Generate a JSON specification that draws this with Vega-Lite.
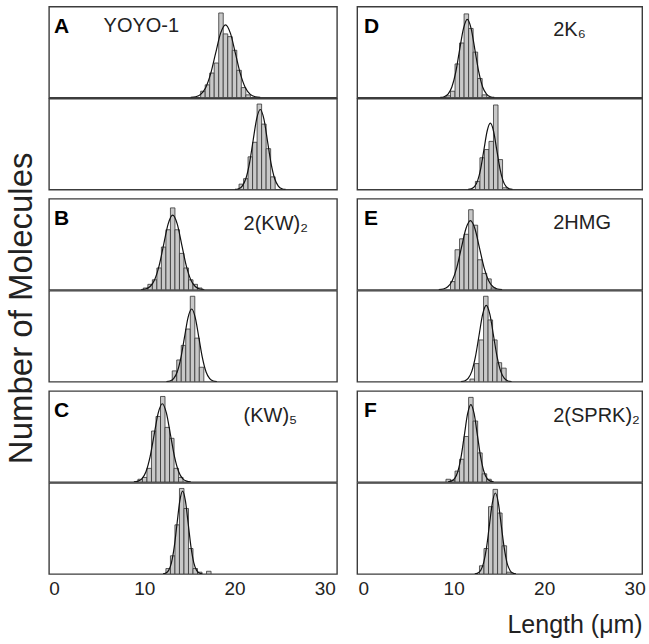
{
"$schema": "https://vega.github.io/schema/vega-lite/v6.json",
"background": "white",
"padding": {"left": 5, "top": 5.6, "right": 2, "bottom": 2},
"config": {"view": {"stroke": "#3c3c3c", "strokeWidth": 1.4}, "font": "Liberation Sans"},
"title": {"text": "Number of Molecules", "orient": "left", "anchor": "middle", "fontSize": 33, "fontWeight": "normal", "color": "#222222", "font": "Liberation Sans", "offset": 9, "dx": 14},
"datasets": {
"labels": [
{"panel": "A", "letter": "A", "name": "YOYO-1"},
{"panel": "B", "letter": "B", "name": "2(KW)₂"},
{"panel": "C", "letter": "C", "name": "(KW)₅"},
{"panel": "D", "letter": "D", "name": "2K₆"},
{"panel": "E", "letter": "E", "name": "2HMG"},
{"panel": "F", "letter": "F", "name": "2(SPRK)₂"}
],
"bars": [
{"id":"A1","x":16.25,"x2":16.75,"y":7},{"id":"A1","x":16.75,"x2":17.25,"y":14},{"id":"A1","x":17.25,"x2":17.75,"y":27},{"id":"A1","x":17.75,"x2":18.25,"y":38},{"id":"A1","x":18.25,"x2":18.75,"y":93},{"id":"A1","x":18.75,"x2":19.25,"y":70},{"id":"A1","x":19.25,"x2":19.75,"y":67},{"id":"A1","x":19.75,"x2":20.25,"y":52},{"id":"A1","x":20.25,"x2":20.75,"y":30},{"id":"A1","x":20.75,"x2":21.25,"y":11},{"id":"A1","x":21.25,"x2":21.75,"y":3},
{"id":"A2","x":20.5,"x2":21.0,"y":6},{"id":"A2","x":21.0,"x2":21.5,"y":12},{"id":"A2","x":21.5,"x2":22.0,"y":36},{"id":"A2","x":22.0,"x2":22.5,"y":52},{"id":"A2","x":22.5,"x2":23.0,"y":94},{"id":"A2","x":23.0,"x2":23.5,"y":72},{"id":"A2","x":23.5,"x2":24.0,"y":45},{"id":"A2","x":24.0,"x2":24.5,"y":14},
{"id":"B1","x":9.9,"x2":10.4,"y":2},{"id":"B1","x":10.4,"x2":10.9,"y":6},{"id":"B1","x":10.9,"x2":11.4,"y":11},{"id":"B1","x":11.4,"x2":11.9,"y":24},{"id":"B1","x":11.9,"x2":12.4,"y":47},{"id":"B1","x":12.4,"x2":12.9,"y":66},{"id":"B1","x":12.9,"x2":13.4,"y":90},{"id":"B1","x":13.4,"x2":13.9,"y":66},{"id":"B1","x":13.9,"x2":14.4,"y":40},{"id":"B1","x":14.4,"x2":14.9,"y":24},{"id":"B1","x":14.9,"x2":15.4,"y":11},{"id":"B1","x":15.4,"x2":15.9,"y":6},{"id":"B1","x":15.9,"x2":16.4,"y":2},
{"id":"B2","x":13.1,"x2":13.6,"y":12},{"id":"B2","x":13.6,"x2":14.1,"y":24},{"id":"B2","x":14.1,"x2":14.6,"y":40},{"id":"B2","x":14.6,"x2":15.1,"y":58},{"id":"B2","x":15.1,"x2":15.6,"y":94},{"id":"B2","x":15.6,"x2":16.1,"y":48},{"id":"B2","x":16.1,"x2":16.6,"y":16},
{"id":"C1","x":9.3,"x2":9.8,"y":3},{"id":"C1","x":9.8,"x2":10.3,"y":5},{"id":"C1","x":10.3,"x2":10.8,"y":15},{"id":"C1","x":10.8,"x2":11.3,"y":56},{"id":"C1","x":11.3,"x2":11.8,"y":72},{"id":"C1","x":11.8,"x2":12.3,"y":94},{"id":"C1","x":12.3,"x2":12.8,"y":60},{"id":"C1","x":12.8,"x2":13.3,"y":48},{"id":"C1","x":13.3,"x2":13.8,"y":15},{"id":"C1","x":13.8,"x2":14.3,"y":5},
{"id":"C2","x":12.4,"x2":12.9,"y":6},{"id":"C2","x":12.9,"x2":13.4,"y":20},{"id":"C2","x":13.4,"x2":13.9,"y":54},{"id":"C2","x":13.9,"x2":14.4,"y":94},{"id":"C2","x":14.4,"x2":14.9,"y":72},{"id":"C2","x":14.9,"x2":15.4,"y":28},{"id":"C2","x":15.4,"x2":15.9,"y":6},{"id":"C2","x":15.9,"x2":16.4,"y":2},{"id":"C2","x":16.9,"x2":17.4,"y":3},
{"id":"D1","x":9.15,"x2":9.65,"y":2},{"id":"D1","x":9.65,"x2":10.15,"y":7},{"id":"D1","x":10.15,"x2":10.65,"y":37},{"id":"D1","x":10.65,"x2":11.15,"y":60},{"id":"D1","x":11.15,"x2":11.65,"y":92},{"id":"D1","x":11.65,"x2":12.15,"y":76},{"id":"D1","x":12.15,"x2":12.65,"y":50},{"id":"D1","x":12.65,"x2":13.15,"y":21},{"id":"D1","x":13.15,"x2":13.65,"y":3},
{"id":"D2","x":12.4,"x2":12.9,"y":9},{"id":"D2","x":12.9,"x2":13.4,"y":35},{"id":"D2","x":13.4,"x2":13.9,"y":44},{"id":"D2","x":13.9,"x2":14.4,"y":53},{"id":"D2","x":14.4,"x2":14.9,"y":93},{"id":"D2","x":14.9,"x2":15.4,"y":33},{"id":"D2","x":15.4,"x2":15.9,"y":2},
{"id":"E1","x":9.65,"x2":10.15,"y":9},{"id":"E1","x":10.15,"x2":10.65,"y":44},{"id":"E1","x":10.65,"x2":11.15,"y":56},{"id":"E1","x":11.15,"x2":11.65,"y":61},{"id":"E1","x":11.65,"x2":12.15,"y":88},{"id":"E1","x":12.15,"x2":12.65,"y":71},{"id":"E1","x":12.65,"x2":13.15,"y":33},{"id":"E1","x":13.15,"x2":13.65,"y":18},{"id":"E1","x":13.65,"x2":14.15,"y":12},{"id":"E1","x":14.15,"x2":14.65,"y":2},
{"id":"E2","x":11.8,"x2":12.3,"y":3},{"id":"E2","x":12.3,"x2":12.8,"y":20},{"id":"E2","x":12.8,"x2":13.3,"y":46},{"id":"E2","x":13.3,"x2":13.8,"y":94},{"id":"E2","x":13.8,"x2":14.3,"y":68},{"id":"E2","x":14.3,"x2":14.8,"y":46},{"id":"E2","x":14.8,"x2":15.3,"y":21},{"id":"E2","x":15.3,"x2":15.8,"y":15},
{"id":"F1","x":9.15,"x2":9.65,"y":3},{"id":"F1","x":9.65,"x2":10.15,"y":2},{"id":"F1","x":10.15,"x2":10.65,"y":12},{"id":"F1","x":10.65,"x2":11.15,"y":25},{"id":"F1","x":11.15,"x2":11.65,"y":50},{"id":"F1","x":11.65,"x2":12.15,"y":93},{"id":"F1","x":12.15,"x2":12.65,"y":67},{"id":"F1","x":12.65,"x2":13.15,"y":32},{"id":"F1","x":13.15,"x2":13.65,"y":9},{"id":"F1","x":13.65,"x2":14.15,"y":3},
{"id":"F2","x":12.85,"x2":13.35,"y":9},{"id":"F2","x":13.35,"x2":13.85,"y":28},{"id":"F2","x":13.85,"x2":14.35,"y":74},{"id":"F2","x":14.35,"x2":14.85,"y":93},{"id":"F2","x":14.85,"x2":15.35,"y":67},{"id":"F2","x":15.35,"x2":15.85,"y":31},{"id":"F2","x":15.85,"x2":16.35,"y":2}
],
"curves": [
{"id":"A1","x":15.15,"y":0.18},{"id":"A1","x":15.7,"y":0.89},{"id":"A1","x":16.25,"y":3.5},{"id":"A1","x":16.8,"y":10.8},{"id":"A1","x":17.35,"y":26},{"id":"A1","x":17.9,"y":48.5},{"id":"A1","x":18.45,"y":70.6},{"id":"A1","x":19.0,"y":80},{"id":"A1","x":19.55,"y":70.6},{"id":"A1","x":20.1,"y":48.5},{"id":"A1","x":20.65,"y":26},{"id":"A1","x":21.2,"y":10.8},{"id":"A1","x":21.75,"y":3.5},{"id":"A1","x":22.3,"y":0.89},{"id":"A1","x":22.85,"y":0.18},
{"id":"A2","x":20.05,"y":0.19},{"id":"A2","x":20.45,"y":0.98},{"id":"A2","x":20.85,"y":3.9},{"id":"A2","x":21.25,"y":11.9},{"id":"A2","x":21.65,"y":28.6},{"id":"A2","x":22.05,"y":53.4},{"id":"A2","x":22.45,"y":77.7},{"id":"A2","x":22.85,"y":88},{"id":"A2","x":23.25,"y":77.7},{"id":"A2","x":23.65,"y":53.4},{"id":"A2","x":24.05,"y":28.6},{"id":"A2","x":24.45,"y":11.9},{"id":"A2","x":24.85,"y":3.9},{"id":"A2","x":25.25,"y":0.98},{"id":"A2","x":25.65,"y":0.19},
{"id":"B1","x":9.65,"y":0.18},{"id":"B1","x":10.15,"y":0.91},{"id":"B1","x":10.65,"y":3.6},{"id":"B1","x":11.15,"y":11.1},{"id":"B1","x":11.65,"y":26.6},{"id":"B1","x":12.15,"y":49.7},{"id":"B1","x":12.65,"y":72.4},{"id":"B1","x":13.15,"y":82},{"id":"B1","x":13.65,"y":72.4},{"id":"B1","x":14.15,"y":49.7},{"id":"B1","x":14.65,"y":26.6},{"id":"B1","x":15.15,"y":11.1},{"id":"B1","x":15.65,"y":3.6},{"id":"B1","x":16.15,"y":0.91},{"id":"B1","x":16.65,"y":0.18},
{"id":"B2","x":12.45,"y":0.18},{"id":"B2","x":12.85,"y":0.89},{"id":"B2","x":13.25,"y":3.5},{"id":"B2","x":13.65,"y":10.8},{"id":"B2","x":14.05,"y":26},{"id":"B2","x":14.45,"y":48.5},{"id":"B2","x":14.85,"y":70.6},{"id":"B2","x":15.25,"y":80},{"id":"B2","x":15.65,"y":70.6},{"id":"B2","x":16.05,"y":48.5},{"id":"B2","x":16.45,"y":26},{"id":"B2","x":16.85,"y":10.8},{"id":"B2","x":17.25,"y":3.5},{"id":"B2","x":17.65,"y":0.89},{"id":"B2","x":18.05,"y":0.18},
{"id":"C1","x":8.85,"y":0.19},{"id":"C1","x":9.3,"y":0.95},{"id":"C1","x":9.75,"y":3.8},{"id":"C1","x":10.2,"y":11.6},{"id":"C1","x":10.65,"y":27.9},{"id":"C1","x":11.1,"y":52.2},{"id":"C1","x":11.55,"y":75.9},{"id":"C1","x":12.0,"y":86},{"id":"C1","x":12.45,"y":75.9},{"id":"C1","x":12.9,"y":52.2},{"id":"C1","x":13.35,"y":27.9},{"id":"C1","x":13.8,"y":11.6},{"id":"C1","x":14.25,"y":3.8},{"id":"C1","x":14.7,"y":0.95},{"id":"C1","x":15.15,"y":0.19},
{"id":"C2","x":12.08,"y":0.2},{"id":"C2","x":12.39,"y":1.0},{"id":"C2","x":12.7,"y":4.0},{"id":"C2","x":13.01,"y":12.3},{"id":"C2","x":13.32,"y":29.5},{"id":"C2","x":13.63,"y":55.2},{"id":"C2","x":13.94,"y":80.3},{"id":"C2","x":14.25,"y":91},{"id":"C2","x":14.56,"y":80.3},{"id":"C2","x":14.87,"y":55.2},{"id":"C2","x":15.18,"y":29.5},{"id":"C2","x":15.49,"y":12.3},{"id":"C2","x":15.8,"y":4.0},{"id":"C2","x":16.11,"y":1.0},{"id":"C2","x":16.42,"y":0.2},
{"id":"D1","x":8.53,"y":0.19},{"id":"D1","x":8.95,"y":0.95},{"id":"D1","x":9.38,"y":3.8},{"id":"D1","x":9.8,"y":11.6},{"id":"D1","x":10.23,"y":27.9},{"id":"D1","x":10.65,"y":52.2},{"id":"D1","x":11.08,"y":75.9},{"id":"D1","x":11.5,"y":86},{"id":"D1","x":11.93,"y":75.9},{"id":"D1","x":12.35,"y":52.2},{"id":"D1","x":12.78,"y":27.9},{"id":"D1","x":13.2,"y":11.6},{"id":"D1","x":13.63,"y":3.8},{"id":"D1","x":14.05,"y":0.95},{"id":"D1","x":14.48,"y":0.19},
{"id":"D2","x":11.6,"y":0.16},{"id":"D2","x":11.95,"y":0.81},{"id":"D2","x":12.3,"y":3.2},{"id":"D2","x":12.65,"y":9.9},{"id":"D2","x":13.0,"y":23.7},{"id":"D2","x":13.35,"y":44.3},{"id":"D2","x":13.7,"y":64.4},{"id":"D2","x":14.05,"y":73},{"id":"D2","x":14.4,"y":64.4},{"id":"D2","x":14.75,"y":44.3},{"id":"D2","x":15.1,"y":23.7},{"id":"D2","x":15.45,"y":9.9},{"id":"D2","x":15.8,"y":3.2},{"id":"D2","x":16.15,"y":0.81},{"id":"D2","x":16.5,"y":0.16},
{"id":"E1","x":8.35,"y":0.17},{"id":"E1","x":8.85,"y":0.84},{"id":"E1","x":9.35,"y":3.3},{"id":"E1","x":9.85,"y":10.3},{"id":"E1","x":10.35,"y":24.7},{"id":"E1","x":10.85,"y":46.1},{"id":"E1","x":11.35,"y":67.1},{"id":"E1","x":11.85,"y":76},{"id":"E1","x":12.35,"y":67.1},{"id":"E1","x":12.85,"y":46.1},{"id":"E1","x":13.35,"y":24.7},{"id":"E1","x":13.85,"y":10.3},{"id":"E1","x":14.35,"y":3.3},{"id":"E1","x":14.85,"y":0.84},{"id":"E1","x":15.35,"y":0.17},
{"id":"E2","x":10.8,"y":0.18},{"id":"E2","x":11.2,"y":0.93},{"id":"E2","x":11.6,"y":3.7},{"id":"E2","x":12.0,"y":11.4},{"id":"E2","x":12.4,"y":27.3},{"id":"E2","x":12.8,"y":50.9},{"id":"E2","x":13.2,"y":74.1},{"id":"E2","x":13.6,"y":84},{"id":"E2","x":14.0,"y":74.1},{"id":"E2","x":14.4,"y":50.9},{"id":"E2","x":14.8,"y":27.3},{"id":"E2","x":15.2,"y":11.4},{"id":"E2","x":15.6,"y":3.7},{"id":"E2","x":16.0,"y":0.93},{"id":"E2","x":16.4,"y":0.18},
{"id":"F1","x":9.38,"y":0.19},{"id":"F1","x":9.74,"y":0.94},{"id":"F1","x":10.1,"y":3.7},{"id":"F1","x":10.46,"y":11.5},{"id":"F1","x":10.82,"y":27.6},{"id":"F1","x":11.18,"y":51.6},{"id":"F1","x":11.54,"y":75},{"id":"F1","x":11.9,"y":85},{"id":"F1","x":12.26,"y":75},{"id":"F1","x":12.62,"y":51.6},{"id":"F1","x":12.98,"y":27.6},{"id":"F1","x":13.34,"y":11.5},{"id":"F1","x":13.7,"y":3.7},{"id":"F1","x":14.06,"y":0.94},{"id":"F1","x":14.42,"y":0.19},
{"id":"F2","x":12.33,"y":0.2},{"id":"F2","x":12.65,"y":0.99},{"id":"F2","x":12.98,"y":3.9},{"id":"F2","x":13.3,"y":12},{"id":"F2","x":13.63,"y":28.9},{"id":"F2","x":13.95,"y":54},{"id":"F2","x":14.28,"y":78.5},{"id":"F2","x":14.6,"y":89},{"id":"F2","x":14.93,"y":78.5},{"id":"F2","x":15.25,"y":54},{"id":"F2","x":15.58,"y":28.9},{"id":"F2","x":15.9,"y":12},{"id":"F2","x":16.23,"y":3.9},{"id":"F2","x":16.55,"y":0.99},{"id":"F2","x":16.88,"y":0.2}
]
},
"spacing": 18.2,
"hconcat": [
{"spacing": 7.2, "vconcat": [
 {"spacing": -2.8, "vconcat": [
  {"width": 288, "height": 91, "layer": [
    {"data": {"name": "bars"}, "transform": [{"filter": "datum.id === 'A1'"}], "mark": {"type": "rect", "fill": "#c8c8c8", "stroke": "#333333", "strokeWidth": 0.8, "clip": true}, "encoding": {"x": {"field": "x", "type": "quantitative", "scale": {"domain": [-0.55, 31.35]}, "axis": null}, "x2": {"field": "x2"}, "y": {"field": "y", "type": "quantitative", "scale": {"domain": [0, 100]}, "axis": null}, "y2": {"datum": 0}}},
    {"data": {"name": "curves"}, "transform": [{"filter": "datum.id === 'A1'"}], "mark": {"type": "line", "color": "#111111", "strokeWidth": 1.2, "interpolate": "monotone", "clip": true}, "encoding": {"x": {"field": "x", "type": "quantitative", "scale": {"domain": [-0.55, 31.35]}, "axis": null}, "y": {"field": "y", "type": "quantitative", "scale": {"domain": [0, 100]}, "axis": null}}},
    {"data": {"name": "labels"}, "transform": [{"filter": "datum.panel === 'A'"}], "mark": {"type": "text", "align": "left", "baseline": "alphabetic", "fontSize": 21, "fontWeight": "bold", "color": "#000000"}, "encoding": {"x": {"datum": 0, "type": "quantitative", "scale": {"domain": [-0.55, 31.35]}, "axis": null}, "y": {"datum": 71, "type": "quantitative", "scale": {"domain": [0, 100]}, "axis": null}, "text": {"field": "letter"}}},
    {"data": {"name": "labels"}, "transform": [{"filter": "datum.panel === 'A'"}], "mark": {"type": "text", "align": "left", "baseline": "alphabetic", "fontSize": 20, "color": "#222222"}, "encoding": {"x": {"datum": 5.5, "type": "quantitative", "scale": {"domain": [-0.55, 31.35]}, "axis": null}, "y": {"datum": 72, "type": "quantitative", "scale": {"domain": [0, 100]}, "axis": null}, "text": {"field": "name"}}}
  ]},
  {"width": 288, "height": 91, "layer": [
    {"data": {"name": "bars"}, "transform": [{"filter": "datum.id === 'A2'"}], "mark": {"type": "rect", "fill": "#c8c8c8", "stroke": "#333333", "strokeWidth": 0.8, "clip": true}, "encoding": {"x": {"field": "x", "type": "quantitative", "scale": {"domain": [-0.55, 31.35]}, "axis": null}, "x2": {"field": "x2"}, "y": {"field": "y", "type": "quantitative", "scale": {"domain": [0, 100]}, "axis": null}, "y2": {"datum": 0}}},
    {"data": {"name": "curves"}, "transform": [{"filter": "datum.id === 'A2'"}], "mark": {"type": "line", "color": "#111111", "strokeWidth": 1.2, "interpolate": "monotone", "clip": true}, "encoding": {"x": {"field": "x", "type": "quantitative", "scale": {"domain": [-0.55, 31.35]}, "axis": null}, "y": {"field": "y", "type": "quantitative", "scale": {"domain": [0, 100]}, "axis": null}}}
  ]}
 ]},
 {"spacing": -2.8, "vconcat": [
  {"width": 288, "height": 91, "layer": [
    {"data": {"name": "bars"}, "transform": [{"filter": "datum.id === 'B1'"}], "mark": {"type": "rect", "fill": "#c8c8c8", "stroke": "#333333", "strokeWidth": 0.8, "clip": true}, "encoding": {"x": {"field": "x", "type": "quantitative", "scale": {"domain": [-0.55, 31.35]}, "axis": null}, "x2": {"field": "x2"}, "y": {"field": "y", "type": "quantitative", "scale": {"domain": [0, 100]}, "axis": null}, "y2": {"datum": 0}}},
    {"data": {"name": "curves"}, "transform": [{"filter": "datum.id === 'B1'"}], "mark": {"type": "line", "color": "#111111", "strokeWidth": 1.2, "interpolate": "monotone", "clip": true}, "encoding": {"x": {"field": "x", "type": "quantitative", "scale": {"domain": [-0.55, 31.35]}, "axis": null}, "y": {"field": "y", "type": "quantitative", "scale": {"domain": [0, 100]}, "axis": null}}},
    {"data": {"name": "labels"}, "transform": [{"filter": "datum.panel === 'B'"}], "mark": {"type": "text", "align": "left", "baseline": "alphabetic", "fontSize": 21, "fontWeight": "bold", "color": "#000000"}, "encoding": {"x": {"datum": 0, "type": "quantitative", "scale": {"domain": [-0.55, 31.35]}, "axis": null}, "y": {"datum": 71, "type": "quantitative", "scale": {"domain": [0, 100]}, "axis": null}, "text": {"field": "letter"}}},
    {"data": {"name": "labels"}, "transform": [{"filter": "datum.panel === 'B'"}], "mark": {"type": "text", "align": "left", "baseline": "alphabetic", "fontSize": 20, "color": "#222222"}, "encoding": {"x": {"datum": 21, "type": "quantitative", "scale": {"domain": [-0.55, 31.35]}, "axis": null}, "y": {"datum": 66, "type": "quantitative", "scale": {"domain": [0, 100]}, "axis": null}, "text": {"field": "name"}}}
  ]},
  {"width": 288, "height": 91, "layer": [
    {"data": {"name": "bars"}, "transform": [{"filter": "datum.id === 'B2'"}], "mark": {"type": "rect", "fill": "#c8c8c8", "stroke": "#333333", "strokeWidth": 0.8, "clip": true}, "encoding": {"x": {"field": "x", "type": "quantitative", "scale": {"domain": [-0.55, 31.35]}, "axis": null}, "x2": {"field": "x2"}, "y": {"field": "y", "type": "quantitative", "scale": {"domain": [0, 100]}, "axis": null}, "y2": {"datum": 0}}},
    {"data": {"name": "curves"}, "transform": [{"filter": "datum.id === 'B2'"}], "mark": {"type": "line", "color": "#111111", "strokeWidth": 1.2, "interpolate": "monotone", "clip": true}, "encoding": {"x": {"field": "x", "type": "quantitative", "scale": {"domain": [-0.55, 31.35]}, "axis": null}, "y": {"field": "y", "type": "quantitative", "scale": {"domain": [0, 100]}, "axis": null}}}
  ]}
 ]},
 {"spacing": -2.8, "vconcat": [
  {"width": 288, "height": 91, "layer": [
    {"data": {"name": "bars"}, "transform": [{"filter": "datum.id === 'C1'"}], "mark": {"type": "rect", "fill": "#c8c8c8", "stroke": "#333333", "strokeWidth": 0.8, "clip": true}, "encoding": {"x": {"field": "x", "type": "quantitative", "scale": {"domain": [-0.55, 31.35]}, "axis": null}, "x2": {"field": "x2"}, "y": {"field": "y", "type": "quantitative", "scale": {"domain": [0, 100]}, "axis": null}, "y2": {"datum": 0}}},
    {"data": {"name": "curves"}, "transform": [{"filter": "datum.id === 'C1'"}], "mark": {"type": "line", "color": "#111111", "strokeWidth": 1.2, "interpolate": "monotone", "clip": true}, "encoding": {"x": {"field": "x", "type": "quantitative", "scale": {"domain": [-0.55, 31.35]}, "axis": null}, "y": {"field": "y", "type": "quantitative", "scale": {"domain": [0, 100]}, "axis": null}}},
    {"data": {"name": "labels"}, "transform": [{"filter": "datum.panel === 'C'"}], "mark": {"type": "text", "align": "left", "baseline": "alphabetic", "fontSize": 21, "fontWeight": "bold", "color": "#000000"}, "encoding": {"x": {"datum": 0, "type": "quantitative", "scale": {"domain": [-0.55, 31.35]}, "axis": null}, "y": {"datum": 71, "type": "quantitative", "scale": {"domain": [0, 100]}, "axis": null}, "text": {"field": "letter"}}},
    {"data": {"name": "labels"}, "transform": [{"filter": "datum.panel === 'C'"}], "mark": {"type": "text", "align": "left", "baseline": "alphabetic", "fontSize": 20, "color": "#222222"}, "encoding": {"x": {"datum": 21, "type": "quantitative", "scale": {"domain": [-0.55, 31.35]}, "axis": null}, "y": {"datum": 66, "type": "quantitative", "scale": {"domain": [0, 100]}, "axis": null}, "text": {"field": "name"}}}
  ]},
  {"width": 288, "height": 91, "layer": [
    {"data": {"name": "bars"}, "transform": [{"filter": "datum.id === 'C2'"}], "mark": {"type": "rect", "fill": "#c8c8c8", "stroke": "#333333", "strokeWidth": 0.8, "clip": true}, "encoding": {"x": {"field": "x", "type": "quantitative", "scale": {"domain": [-0.55, 31.35]}, "axis": {"values": [0, 10, 20, 30], "ticks": false, "domain": false, "grid": false, "labelFontSize": 19, "labelColor": "#222222", "labelPadding": 6, "labelFlush": false, "title": null}}, "x2": {"field": "x2"}, "y": {"field": "y", "type": "quantitative", "scale": {"domain": [0, 100]}, "axis": null}, "y2": {"datum": 0}}},
    {"data": {"name": "curves"}, "transform": [{"filter": "datum.id === 'C2'"}], "mark": {"type": "line", "color": "#111111", "strokeWidth": 1.2, "interpolate": "monotone", "clip": true}, "encoding": {"x": {"field": "x", "type": "quantitative", "scale": {"domain": [-0.55, 31.35]}, "axis": {"values": [0, 10, 20, 30], "ticks": false, "domain": false, "grid": false, "labelFontSize": 19, "labelColor": "#222222", "labelPadding": 6, "labelFlush": false, "title": null}}, "y": {"field": "y", "type": "quantitative", "scale": {"domain": [0, 100]}, "axis": null}}}
  ]}
 ]}
]},
{"spacing": 7.2, "vconcat": [
 {"spacing": -2.8, "vconcat": [
  {"width": 285, "height": 91, "layer": [
    {"data": {"name": "bars"}, "transform": [{"filter": "datum.id === 'D1'"}], "mark": {"type": "rect", "fill": "#c8c8c8", "stroke": "#333333", "strokeWidth": 0.8, "clip": true}, "encoding": {"x": {"field": "x", "type": "quantitative", "scale": {"domain": [-0.66, 30.83]}, "axis": null}, "x2": {"field": "x2"}, "y": {"field": "y", "type": "quantitative", "scale": {"domain": [0, 100]}, "axis": null}, "y2": {"datum": 0}}},
    {"data": {"name": "curves"}, "transform": [{"filter": "datum.id === 'D1'"}], "mark": {"type": "line", "color": "#111111", "strokeWidth": 1.2, "interpolate": "monotone", "clip": true}, "encoding": {"x": {"field": "x", "type": "quantitative", "scale": {"domain": [-0.66, 30.83]}, "axis": null}, "y": {"field": "y", "type": "quantitative", "scale": {"domain": [0, 100]}, "axis": null}}},
    {"data": {"name": "labels"}, "transform": [{"filter": "datum.panel === 'D'"}], "mark": {"type": "text", "align": "left", "baseline": "alphabetic", "fontSize": 21, "fontWeight": "bold", "color": "#000000"}, "encoding": {"x": {"datum": 0.1, "type": "quantitative", "scale": {"domain": [-0.66, 30.83]}, "axis": null}, "y": {"datum": 71, "type": "quantitative", "scale": {"domain": [0, 100]}, "axis": null}, "text": {"field": "letter"}}},
    {"data": {"name": "labels"}, "transform": [{"filter": "datum.panel === 'D'"}], "mark": {"type": "text", "align": "left", "baseline": "alphabetic", "fontSize": 20, "color": "#222222"}, "encoding": {"x": {"datum": 21, "type": "quantitative", "scale": {"domain": [-0.66, 30.83]}, "axis": null}, "y": {"datum": 68, "type": "quantitative", "scale": {"domain": [0, 100]}, "axis": null}, "text": {"field": "name"}}}
  ]},
  {"width": 285, "height": 91, "layer": [
    {"data": {"name": "bars"}, "transform": [{"filter": "datum.id === 'D2'"}], "mark": {"type": "rect", "fill": "#c8c8c8", "stroke": "#333333", "strokeWidth": 0.8, "clip": true}, "encoding": {"x": {"field": "x", "type": "quantitative", "scale": {"domain": [-0.66, 30.83]}, "axis": null}, "x2": {"field": "x2"}, "y": {"field": "y", "type": "quantitative", "scale": {"domain": [0, 100]}, "axis": null}, "y2": {"datum": 0}}},
    {"data": {"name": "curves"}, "transform": [{"filter": "datum.id === 'D2'"}], "mark": {"type": "line", "color": "#111111", "strokeWidth": 1.2, "interpolate": "monotone", "clip": true}, "encoding": {"x": {"field": "x", "type": "quantitative", "scale": {"domain": [-0.66, 30.83]}, "axis": null}, "y": {"field": "y", "type": "quantitative", "scale": {"domain": [0, 100]}, "axis": null}}}
  ]}
 ]},
 {"spacing": -2.8, "vconcat": [
  {"width": 285, "height": 91, "layer": [
    {"data": {"name": "bars"}, "transform": [{"filter": "datum.id === 'E1'"}], "mark": {"type": "rect", "fill": "#c8c8c8", "stroke": "#333333", "strokeWidth": 0.8, "clip": true}, "encoding": {"x": {"field": "x", "type": "quantitative", "scale": {"domain": [-0.66, 30.83]}, "axis": null}, "x2": {"field": "x2"}, "y": {"field": "y", "type": "quantitative", "scale": {"domain": [0, 100]}, "axis": null}, "y2": {"datum": 0}}},
    {"data": {"name": "curves"}, "transform": [{"filter": "datum.id === 'E1'"}], "mark": {"type": "line", "color": "#111111", "strokeWidth": 1.2, "interpolate": "monotone", "clip": true}, "encoding": {"x": {"field": "x", "type": "quantitative", "scale": {"domain": [-0.66, 30.83]}, "axis": null}, "y": {"field": "y", "type": "quantitative", "scale": {"domain": [0, 100]}, "axis": null}}},
    {"data": {"name": "labels"}, "transform": [{"filter": "datum.panel === 'E'"}], "mark": {"type": "text", "align": "left", "baseline": "alphabetic", "fontSize": 21, "fontWeight": "bold", "color": "#000000"}, "encoding": {"x": {"datum": 0.1, "type": "quantitative", "scale": {"domain": [-0.66, 30.83]}, "axis": null}, "y": {"datum": 71, "type": "quantitative", "scale": {"domain": [0, 100]}, "axis": null}, "text": {"field": "letter"}}},
    {"data": {"name": "labels"}, "transform": [{"filter": "datum.panel === 'E'"}], "mark": {"type": "text", "align": "left", "baseline": "alphabetic", "fontSize": 20, "color": "#222222"}, "encoding": {"x": {"datum": 21, "type": "quantitative", "scale": {"domain": [-0.66, 30.83]}, "axis": null}, "y": {"datum": 67, "type": "quantitative", "scale": {"domain": [0, 100]}, "axis": null}, "text": {"field": "name"}}}
  ]},
  {"width": 285, "height": 91, "layer": [
    {"data": {"name": "bars"}, "transform": [{"filter": "datum.id === 'E2'"}], "mark": {"type": "rect", "fill": "#c8c8c8", "stroke": "#333333", "strokeWidth": 0.8, "clip": true}, "encoding": {"x": {"field": "x", "type": "quantitative", "scale": {"domain": [-0.66, 30.83]}, "axis": null}, "x2": {"field": "x2"}, "y": {"field": "y", "type": "quantitative", "scale": {"domain": [0, 100]}, "axis": null}, "y2": {"datum": 0}}},
    {"data": {"name": "curves"}, "transform": [{"filter": "datum.id === 'E2'"}], "mark": {"type": "line", "color": "#111111", "strokeWidth": 1.2, "interpolate": "monotone", "clip": true}, "encoding": {"x": {"field": "x", "type": "quantitative", "scale": {"domain": [-0.66, 30.83]}, "axis": null}, "y": {"field": "y", "type": "quantitative", "scale": {"domain": [0, 100]}, "axis": null}}}
  ]}
 ]},
 {"spacing": -2.8, "vconcat": [
  {"width": 285, "height": 91, "layer": [
    {"data": {"name": "bars"}, "transform": [{"filter": "datum.id === 'F1'"}], "mark": {"type": "rect", "fill": "#c8c8c8", "stroke": "#333333", "strokeWidth": 0.8, "clip": true}, "encoding": {"x": {"field": "x", "type": "quantitative", "scale": {"domain": [-0.66, 30.83]}, "axis": null}, "x2": {"field": "x2"}, "y": {"field": "y", "type": "quantitative", "scale": {"domain": [0, 100]}, "axis": null}, "y2": {"datum": 0}}},
    {"data": {"name": "curves"}, "transform": [{"filter": "datum.id === 'F1'"}], "mark": {"type": "line", "color": "#111111", "strokeWidth": 1.2, "interpolate": "monotone", "clip": true}, "encoding": {"x": {"field": "x", "type": "quantitative", "scale": {"domain": [-0.66, 30.83]}, "axis": null}, "y": {"field": "y", "type": "quantitative", "scale": {"domain": [0, 100]}, "axis": null}}},
    {"data": {"name": "labels"}, "transform": [{"filter": "datum.panel === 'F'"}], "mark": {"type": "text", "align": "left", "baseline": "alphabetic", "fontSize": 21, "fontWeight": "bold", "color": "#000000"}, "encoding": {"x": {"datum": 0.1, "type": "quantitative", "scale": {"domain": [-0.66, 30.83]}, "axis": null}, "y": {"datum": 71, "type": "quantitative", "scale": {"domain": [0, 100]}, "axis": null}, "text": {"field": "letter"}}},
    {"data": {"name": "labels"}, "transform": [{"filter": "datum.panel === 'F'"}], "mark": {"type": "text", "align": "left", "baseline": "alphabetic", "fontSize": 20, "color": "#222222"}, "encoding": {"x": {"datum": 21, "type": "quantitative", "scale": {"domain": [-0.66, 30.83]}, "axis": null}, "y": {"datum": 66, "type": "quantitative", "scale": {"domain": [0, 100]}, "axis": null}, "text": {"field": "name"}}}
  ]},
  {"width": 285, "height": 91, "layer": [
    {"data": {"name": "bars"}, "transform": [{"filter": "datum.id === 'F2'"}], "mark": {"type": "rect", "fill": "#c8c8c8", "stroke": "#333333", "strokeWidth": 0.8, "clip": true}, "encoding": {"x": {"field": "x", "type": "quantitative", "scale": {"domain": [-0.66, 30.83]}, "axis": {"values": [0, 10, 20, 30], "ticks": false, "domain": false, "grid": false, "labelFontSize": 19, "labelColor": "#222222", "labelPadding": 6, "labelFlush": false, "title": "Length (μm)", "titleFontSize": 25, "titleFontWeight": "normal", "titleColor": "#222222", "titleAnchor": "end", "titlePadding": 14}}, "x2": {"field": "x2"}, "y": {"field": "y", "type": "quantitative", "scale": {"domain": [0, 100]}, "axis": null}, "y2": {"datum": 0}}},
    {"data": {"name": "curves"}, "transform": [{"filter": "datum.id === 'F2'"}], "mark": {"type": "line", "color": "#111111", "strokeWidth": 1.2, "interpolate": "monotone", "clip": true}, "encoding": {"x": {"field": "x", "type": "quantitative", "scale": {"domain": [-0.66, 30.83]}, "axis": {"values": [0, 10, 20, 30], "ticks": false, "domain": false, "grid": false, "labelFontSize": 19, "labelColor": "#222222", "labelPadding": 6, "labelFlush": false, "title": "Length (μm)", "titleFontSize": 25, "titleFontWeight": "normal", "titleColor": "#222222", "titleAnchor": "end", "titlePadding": 14}}, "y": {"field": "y", "type": "quantitative", "scale": {"domain": [0, 100]}, "axis": null}}}
  ]}
 ]}
]}
]
}
